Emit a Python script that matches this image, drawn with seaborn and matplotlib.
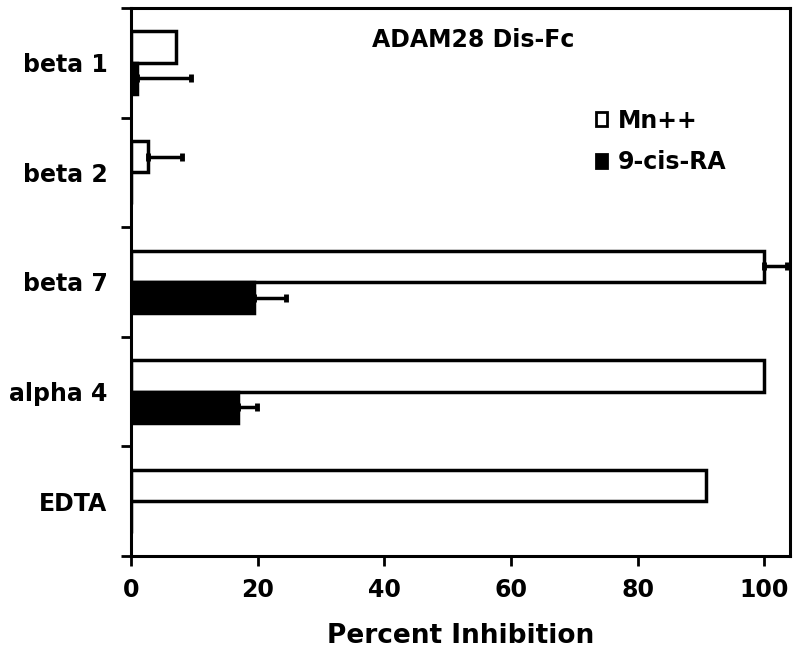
import matplotlib
matplotlib.use("Agg")
import matplotlib.pyplot as plt
import seaborn as sns
import pandas as pd
import numpy as np

# values
categories = ["beta 1", "beta 2", "beta 7", "alpha 4", "EDTA"]
mn_values = [7.0, 2.6, 100.0, 100.0, 90.8]
mn_errors = [0.0, 5.5, 3.6, 0.0, 0.0]
ra_values = [0.9, 0.0, 19.4, 16.9, 0.0]
ra_errors = [8.5, 0.0, 5.0, 3.0, 0.0]
series = ["Mn++", "9-cis-RA"]
x_ticks = [0, 20, 40, 60, 80, 100]

df = pd.DataFrame({
    "receptor": categories * 2,
    "inhibition": mn_values + ra_values,
    "error": mn_errors + ra_errors,
    "treatment": [series[0]] * len(categories) + [series[1]] * len(categories),
})

sns.set_style("ticks")
plt.rcParams["font.family"] = ["DejaVu Sans"]
plt.rcParams["font.weight"] = "bold"
plt.rcParams["text.color"] = "black"
plt.rcParams["axes.labelcolor"] = "black"
plt.rcParams["axes.edgecolor"] = "black"
plt.rcParams["xtick.color"] = "black"
plt.rcParams["ytick.color"] = "black"

fig = plt.figure(figsize=(8, 6.55), dpi=100)
ax = fig.add_axes([0.164, 0.151, 0.823, 0.837])

sns.barplot(data=df, x="inhibition", y="receptor", hue="treatment",
            order=categories, hue_order=series, orient="h",
            palette=["white", "black"], edgecolor="black", linewidth=2.5,
            width=0.57, errorbar=None, ax=ax)

# one-sided error bars, placed on the seaborn bars
for cont, name in zip(ax.containers, series):
    sub = df[df["treatment"] == name]
    ys = [p.get_y() + p.get_height() / 2 for p in cont.patches]
    errs = sub["error"].to_numpy()
    mask = errs > 0
    ax.errorbar(sub["inhibition"].to_numpy()[mask], np.array(ys)[mask],
                xerr=[np.zeros(mask.sum()), errs[mask]], fmt="none",
                ecolor="black", elinewidth=2.5, capsize=3, capthick=3.5,
                zorder=1)

ax.set_xlim(0, 104)
ax.set_ylim(len(categories) - 0.5, -0.5)
ax.set_xticks(x_ticks)
ax.set_xticklabels([str(t) for t in x_ticks], fontsize=17, fontweight="bold")
ax.set_yticks(range(len(categories)))
ax.set_yticklabels(categories, fontsize=17, fontweight="bold")
ax.set_yticks(np.arange(-0.5, len(categories), 1), minor=True)
ax.tick_params(axis="y", which="major", length=0, pad=17)
ax.tick_params(axis="y", which="minor", length=7, width=2, direction="out")
ax.tick_params(axis="x", which="major", length=7, width=2, direction="out", pad=9)

ax.set_xlabel("Percent Inhibition", fontsize=19, fontweight="bold", labelpad=15)
ax.set_ylabel("")
for sp in ax.spines.values():
    sp.set_visible(True)
    sp.set_linewidth(2.2)
    sp.set_color("black")

ax.text(0.52, 0.941, "ADAM28 Dis-Fc", transform=ax.transAxes, ha="center",
        va="center", fontsize=17, fontweight="bold")

ax.legend(loc="upper left", bbox_to_anchor=(0.673, 0.855), frameon=False,
          fontsize=17, handlelength=0.5, handleheight=0.5,
          handletextpad=0.45, labelspacing=0.75)
leg = ax.get_legend()
for t in leg.get_texts():
    t.set_fontweight("bold")
for h in leg.legend_handles:
    h.set_linewidth(2)

fig.savefig("out.png", dpi=100)
